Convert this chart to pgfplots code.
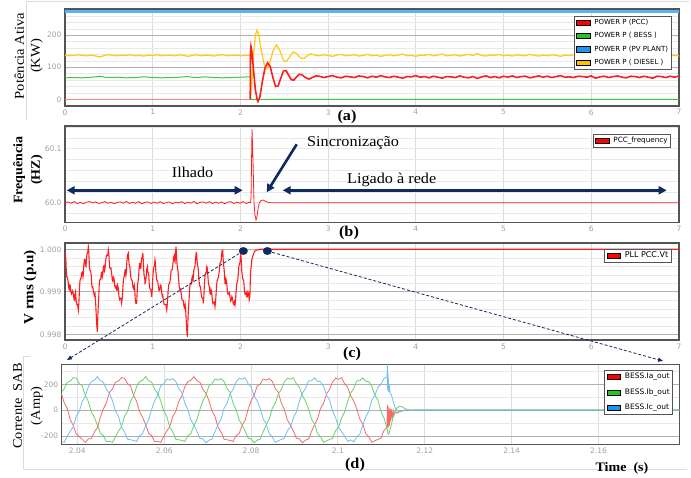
\documentclass[border=0pt]{standalone}
\usepackage{pgfplots}
\pgfplotsset{compat=1.18}
\usepackage{pgfplotstable}
\usepackage{fontspec}
\setmainfont{Liberation Serif}
\setsansfont{DejaVu Sans}
\newfontfamily\cam{Liberation Serif}[FakeStretch=1.08]
\usetikzlibrary{arrows.meta}

\definecolor{navy}{HTML}{0F2A5F}
\definecolor{axcol}{HTML}{555555}
\definecolor{tickcol}{HTML}{A0A0A0}
\definecolor{gridv}{HTML}{DDDDDD}
\definecolor{gridmaj}{HTML}{B0B0B0}
\definecolor{gridmin}{HTML}{E8E8E8}
\definecolor{pccred}{HTML}{FF1E1E}
\definecolor{bessgreen}{HTML}{3CC83C}
\definecolor{pvblue}{HTML}{5AB4F0}
\definecolor{dieselyel}{HTML}{FFCC1A}
\definecolor{legred}{HTML}{FF0000}
\definecolor{leggreen}{HTML}{1EC81E}
\definecolor{legblue}{HTML}{1E96F0}
\definecolor{legyel}{HTML}{FFC000}
\definecolor{ia}{HTML}{F46A6A}
\definecolor{ib}{HTML}{66D366}
\definecolor{ic}{HTML}{70BEF2}

\pgfplotsset{
  panel/.style={
    scale only axis, anchor=south west,
    axis line style={draw=axcol, line width=1.1pt},
    major tick length=0pt, minor tick length=0pt,
    grid=both,
    major x grid style={draw=gridv, line width=1pt},
    major y grid style={draw=gridmaj, line width=0.6pt},
    minor y grid style={draw=gridmin, line width=0.5pt},
    ticklabel style={font=\sffamily\fontsize{7.5}{8}\selectfont, text=tickcol},
    /pgf/number format/assume math mode=true,
    scaled ticks=false,
    legend cell align=left,
    legend style={draw=axcol, line width=0.9pt, fill=white, anchor=north east,
      font=\sffamily\fontsize{7}{8}\selectfont,
      nodes={inner sep=1pt, text height=5.5pt, text depth=1.5pt},
      row sep=4.3pt, inner xsep=2pt, inner ysep=2pt,
      /tikz/every odd column/.append style={column sep=3pt}},
    legend image code/.code={\draw[#1, draw=black, line width=0.5pt] (0pt,-2.6pt) rectangle (13.5pt,2.6pt);},
  }
}

% three-phase BESS currents (t, Ia, Ib, Ic)
\pgfplotstableread{
t a b c
2.03628 133 137 -241
2.03697 57 164 -250
2.03767 14 216 -205
2.03836 -72 224 -163
2.03906 -119 252 -129
2.03975 -186 247 -49
2.04045 -205 206 -9
2.04114 -227 187 67
2.04184 -251 114 110
2.04253 -223 67 180
2.04322 -221 -13 222
2.04392 -169 -56 231
2.04461 -136 -113 259
2.04531 -56 -179 228
2.04600 10 -198 216
2.04670 57 -246 160
2.04739 137 -241 130
2.04809 164 -250 73
2.04878 216 -205 -6
2.04947 224 -163 -49
2.05017 252 -129 -132
2.05086 247 -49 -169
2.05156 206 -9 -225
2.05225 187 67 -230
2.05295 114 110 -235
2.05364 67 180 -243
2.05434 -13 222 -198
2.05503 -56 231 -182
2.05573 -113 259 -119
2.05642 -179 228 -76
2.05712 -198 216 7
2.05781 -246 160 73
2.05851 -241 130 117
2.05920 -250 73 187
2.05989 -205 -6 203
2.06059 -163 -49 241
2.06128 -129 -132 232
2.06198 -49 -169 244
2.06267 -9 -225 222
2.06337 67 -230 167
2.06406 110 -235 137
2.06476 180 -243 54
2.06545 222 -198 4
2.06614 231 -182 -76
2.06684 259 -119 -116
2.06753 228 -76 -163
2.06823 216 7 -218
2.06892 160 73 -223
2.06961 130 117 -254
2.07030 73 187 -233
2.07100 -6 203 -225
2.07169 -49 241 -166
2.07239 -132 232 -113
2.07308 -169 244 -69
2.07378 -225 222 14
2.07447 -230 167 54
2.07517 -235 137 127
2.07586 -243 54 160
2.07655 -198 4 219
2.07725 -182 -76 247
2.07794 -119 -116 239
2.07864 -76 -163 251
2.07933 7 -218 203
2.08003 73 -223 177
2.08072 117 -254 110
2.08142 187 -233 70
2.08211 203 -225 10
2.08280 241 -166 -69
2.08350 232 -113 -109
2.08419 244 -69 -182
2.08489 222 14 -208
2.08558 167 54 -250
2.08628 137 127 -238
2.08697 54 160 -227
2.08767 4 219 -218
2.08836 -76 247 -159
2.08906 -116 239 -132
2.08975 -163 251 -59
2.09045 -218 203 -13
2.09114 -223 177 70
2.09184 -254 110 133
2.09253 -233 70 167
2.09322 -225 10 226
2.09392 -166 -69 228
2.09461 -113 -109 249
2.09531 -69 -182 224
2.09600 14 -208 219
2.09670 54 -250 183
2.09739 127 -238 117
2.09809 160 -227 77
2.09878 219 -218 -9
2.09947 247 -159 -59
2.10017 239 -132 -136
2.10086 251 -59 -166
2.10156 203 -13 -202
2.10225 177 70 -243
2.10295 110 133 -231
2.10364 70 167 -246
2.10434 10 226 -208
2.10503 -69 228 -186
2.10573 -109 249 -116
2.10642 -182 224 -53
2.10712 -208 219 -6
2.10781 -250 183 77
2.10851 -238 117 114
2.10920 -227 77 177
2.10989 -218 -9 199
2.11059 -159 -59 244
2.11128 -132 -136 255
}\currents

\pgfplotstableread{
t v
0.000 0.99991
0.005 0.99989
0.010 0.99975
0.015 0.99949
0.020 0.99935
0.029 0.99934
0.038 0.99920
0.044 0.99907
0.050 0.99905
0.055 0.99916
0.060 0.99915
0.0675 0.99899
0.075 0.99895
0.085 0.99902
0.095 0.99896
0.1025 0.99882
0.110 0.99880
0.115 0.99896
0.120 0.99900
0.1275 0.99879
0.135 0.99870
0.1435 0.99870
0.152 0.99857
0.1585 0.99875
0.165 0.99905
0.170 0.99924
0.175 0.99930
0.1825 0.99931
0.190 0.99944
0.1975 0.99946
0.205 0.99935
0.210 0.99944
0.215 0.99965
0.2215 0.99976
0.228 0.99975
0.234 0.99962
0.240 0.99960
0.246 0.99981
0.252 0.99990
0.259 0.99992
0.266 1.00006
0.2705 0.99997
0.275 0.99975
0.280 0.99957
0.285 0.99950
0.2925 0.99949
0.300 0.99936
0.305 0.99917
0.310 0.99910
0.3175 0.99911
0.325 0.99900
0.3335 0.99892
0.342 0.99896
0.3485 0.99879
0.355 0.99850
0.362 0.99822
0.369 0.99806
0.3745 0.99844
0.380 0.99870
0.385 0.99887
0.390 0.99915
0.395 0.99928
0.400 0.99928
0.4075 0.99931
0.415 0.99945
0.420 0.99946
0.425 0.99935
0.431 0.99941
0.437 0.99959
0.4435 0.99961
0.450 0.99950
0.4575 0.99957
0.465 0.99975
0.4725 0.99986
0.480 0.99985
0.487 0.99986
0.494 0.99998
0.4995 0.99990
0.505 0.99970
0.510 0.99957
0.515 0.99955
0.5235 0.99956
0.532 0.99944
0.5385 0.99929
0.545 0.99925
0.5525 0.99934
0.560 0.99930
0.5675 0.99914
0.575 0.99910
0.582 0.99913
0.589 0.99904
0.5945 0.99904
0.600 0.99915
0.6075 0.99909
0.615 0.99890
0.6225 0.99882
0.630 0.99885
0.638 0.99885
0.646 0.99873
0.653 0.99886
0.660 0.99910
0.666 0.99929
0.672 0.99935
0.678 0.99937
0.684 0.99951
0.6895 0.99952
0.695 0.99940
0.700 0.99949
0.705 0.99970
0.7135 0.99987
0.722 0.99991
0.7285 0.99970
0.735 0.99960
0.740 0.99959
0.745 0.99945
0.7525 0.99931
0.760 0.99928
0.7675 0.99925
0.775 0.99910
0.7825 0.99907
0.790 0.99915
0.795 0.99906
0.800 0.99885
0.8085 0.99873
0.817 0.99873
0.8235 0.99903
0.830 0.99920
0.8375 0.99932
0.845 0.99955
0.850 0.99967
0.855 0.99967
0.860 0.99955
0.865 0.99955
0.8705 0.99974
0.876 0.99980
0.881 0.99980
0.886 0.99991
0.8905 0.99982
0.895 0.99960
0.900 0.99942
0.905 0.99935
0.9085 0.99934
0.912 0.99920
0.9185 0.99922
0.925 0.99935
0.9325 0.99953
0.940 0.99959
0.945 0.99946
0.950 0.99945
0.955 0.99939
0.960 0.99920
0.9675 0.99907
0.975 0.99905
0.9815 0.99903
0.988 0.99888
0.994 0.99903
1.000 0.99930
1.0075 0.99951
1.015 0.99960
1.0205 0.99962
1.026 0.99975
1.0305 0.99969
1.035 0.99950
1.0425 0.99932
1.050 0.99925
1.057 0.99925
1.064 0.99912
1.072 0.99903
1.080 0.99905
1.0875 0.99916
1.095 0.99915
1.1025 0.99897
1.110 0.99890
1.1155 0.99892
1.121 0.99881
1.1305 0.99870
1.140 0.99870
1.150 0.99870
1.160 0.99857
1.1675 0.99873
1.175 0.99900
1.1825 0.99916
1.190 0.99920
1.1975 0.99924
1.205 0.99940
1.2105 0.99951
1.216 0.99951
1.223 0.99952
1.230 0.99965
1.2375 0.99981
1.245 0.99985
1.250 0.99972
1.255 0.99970
1.2605 0.99994
1.266 1.00006
1.273 0.99977
1.280 0.99960
1.2875 0.99951
1.295 0.99930
1.303 0.99911
1.311 0.99904
1.318 0.99906
1.325 0.99895
1.3325 0.99882
1.340 0.99880
1.3485 0.99879
1.357 0.99865
1.3635 0.99862
1.370 0.99870
1.375 0.99861
1.380 0.99840
1.3875 0.99811
1.395 0.99794
1.4025 0.99838
1.410 0.99870
1.415 0.99882
1.420 0.99905
1.4265 0.99919
1.433 0.99920
1.439 0.99919
1.445 0.99930
1.450 0.99934
1.455 0.99925
1.459 0.99925
1.463 0.99936
1.469 0.99952
1.475 0.99955
1.4825 0.99962
1.490 0.99980
1.4955 0.99992
1.501 0.99991
1.5055 0.99972
1.510 0.99965
1.5175 0.99956
1.525 0.99935
1.532 0.99918
1.539 0.99912
1.5445 0.99912
1.550 0.99900
1.5575 0.99887
1.565 0.99885
1.571 0.99885
1.577 0.99873
1.5835 0.99891
1.590 0.99920
1.5975 0.99939
1.605 0.99945
1.6105 0.99946
1.616 0.99959
1.622 0.99956
1.628 0.99940
1.634 0.99922
1.640 0.99915
1.6465 0.99912
1.653 0.99896
1.659 0.99895
1.665 0.99905
1.6725 0.99899
1.680 0.99880
1.6875 0.99872
1.695 0.99875
1.7025 0.99876
1.710 0.99865
1.7175 0.99879
1.725 0.99905
1.7325 0.99924
1.740 0.99930
1.750 0.99935
1.760 0.99951
1.7675 0.99967
1.775 0.99970
1.780 0.99972
1.785 0.99985
1.7915 0.99998
1.798 0.99998
1.804 0.99973
1.810 0.99960
1.817 0.99946
1.824 0.99920
1.8295 0.99919
1.835 0.99930
1.8425 0.99924
1.850 0.99905
1.8575 0.99894
1.865 0.99895
1.873 0.99898
1.881 0.99888
1.888 0.99878
1.895 0.99880
1.9025 0.99889
1.910 0.99885
1.9175 0.99872
1.925 0.99870
1.9315 0.99876
1.938 0.99869
1.944 0.99879
1.950 0.99900
1.9575 0.99919
1.965 0.99925
1.9705 0.99929
1.976 0.99944
1.983 0.99961
1.990 0.99965
1.9965 0.99972
2.003 0.99991
2.009 0.99977
2.015 0.99950
2.024 0.99933
2.033 0.99928
2.039 0.99923
2.045 0.99905
2.0525 0.99894
2.060 0.99895
2.066 0.99898
2.072 0.99888
2.0785 0.99888
2.085 0.99900
2.0925 0.99897
2.100 0.99881
2.108 0.99890
2.115 0.99944
2.130 0.99975
2.140 0.99983
2.160 0.99995
2.180 0.99998
2.220 1.00000
7.000 1.00000
}\vrms

\begin{document}
\begin{tikzpicture}
\path[use as bounding box] (0pt,0pt) rectangle (691pt,477pt);

% faint panel frames
\draw[black!14, line width=0.6pt] (26pt,476pt) -- (689pt,476pt);
\draw[black!14, line width=0.6pt] (26pt,476pt) -- (26pt,357pt);
\draw[black!14, line width=0.6pt] (30pt,121pt) -- (23pt,121pt) -- (23pt,8pt) -- (687pt,8pt);

% ---------------- (a) ----------------
\begin{axis}[panel, at={(65pt,371pt)}, width=614pt, height=97pt,
  xmin=0, xmax=7, ymin=-21, ymax=282,
  xtick={0,1,2,3,4,5,6,7}, ytick={0,100,200},
  minor ytick={20,40,60,80,120,140,160,180,220,240,260,280},
  legend style={at={(0.988,0.931)}}]
\addplot[pvblue, line width=2.2pt, forget plot] coordinates {(0,274) (7,274)};
\addplot[bessgreen, line width=1pt, forget plot] coordinates {
(0,67)(0.1,68)(0.2,67)(0.3,69)(0.35,70)(0.4,72)(0.45,69)(0.5,68)(0.6,69)(0.7,67)(0.8,68)(0.9,70)(1.0,68)(1.1,67)(1.2,68)(1.3,69)(1.4,71)(1.45,69)(1.5,68)(1.6,70)(1.7,68)(1.8,67)(1.9,68)(2.0,69)(2.1,70)(2.114,70)(2.116,0)(7,0)};
\addplot[dieselyel, line width=1.3pt, forget plot] coordinates {
(0,138)(0.05,136)(0.1,137)(0.15,139)(0.2,137)(0.25,136)(0.3,138)(0.35,135)(0.4,132)(0.45,137)(0.5,139)(0.55,137)(0.6,136)(0.65,138)(0.7,137)(0.75,139)(0.8,136)(0.85,137)(0.9,135)(0.95,138)(1.0,137)(1.05,139)(1.1,136)(1.15,137)(1.2,138)(1.25,136)(1.3,139)(1.35,137)(1.4,134)(1.45,137)(1.5,139)(1.55,136)(1.6,138)(1.65,137)(1.7,135)(1.75,138)(1.8,139)(1.85,136)(1.9,137)(1.95,138)(2.0,136)(2.05,137)(2.1,138)(2.112,137)
(2.116,15)(2.13,50)(2.15,140)(2.17,200)(2.19,216)(2.21,200)(2.24,150)(2.27,110)(2.30,95)(2.33,110)(2.37,150)(2.41,170)(2.45,152)(2.49,122)(2.52,117)(2.56,132)(2.60,148)(2.64,143)(2.68,130)(2.72,127)(2.76,135)(2.80,142)(2.85,138)
(2.90,136)(2.95,139)(3.00,137)(3.05,134)(3.10,138)(3.15,140)(3.20,136)(3.25,137)(3.30,139)(3.35,135)(3.40,137)(3.45,140)(3.50,136)(3.55,138)(3.60,134)(3.65,137)(3.70,139)(3.75,136)(3.80,138)(3.85,141)(3.90,136)(3.95,137)(4.00,134)(4.05,138)(4.10,137)(4.15,140)(4.20,136)(4.25,138)(4.30,141)(4.35,136)(4.40,137)(4.45,139)(4.50,135)(4.55,138)(4.60,140)(4.65,137)(4.70,142)(4.75,137)(4.80,135)(4.85,139)(4.90,137)(4.95,140)(5.00,136)(5.05,138)(5.10,135)(5.15,139)(5.20,137)(5.25,136)(5.30,140)(5.35,137)(5.40,135)(5.45,138)(5.50,136)(5.55,139)(5.60,137)(5.65,134)(5.70,138)(5.75,137)(5.80,139)(5.85,136)(5.90,137)(5.95,138)(6.00,135)(6.05,142)(6.10,138)(6.15,136)(6.20,139)(6.25,137)(6.30,135)(6.35,138)(6.40,140)(6.45,136)(6.50,137)(6.55,139)(6.60,136)(6.65,138)(6.70,141)(6.75,136)(6.80,137)(6.85,139)(6.90,136)(6.95,138)(7.00,135)};
\addplot[pccred!55, line width=0.8pt, forget plot] coordinates {(0,0) (2.112,0)};
\addplot[pccred, line width=1.6pt, forget plot] coordinates {
(2.112,0)(2.115,150)(2.12,165)(2.13,150)(2.15,90)(2.17,30)(2.19,0)(2.20,-7)(2.22,5)(2.25,55)(2.28,98)(2.31,114)(2.34,102)(2.37,68)(2.40,40)(2.43,42)(2.46,66)(2.49,88)(2.52,90)(2.55,75)(2.58,61)(2.61,60)(2.64,70)(2.67,78)(2.70,77)(2.74,68)(2.78,63)(2.82,68)(2.86,73)
(2.90,72)(2.95,68)(3.00,71)(3.05,74)(3.10,69)(3.15,67)(3.20,72)(3.25,70)(3.30,68)(3.35,73)(3.40,71)(3.45,67)(3.50,72)(3.55,69)(3.60,74)(3.65,70)(3.70,68)(3.75,72)(3.80,69)(3.85,66)(3.90,71)(3.95,70)(4.00,74)(4.05,69)(4.10,71)(4.15,67)(4.20,72)(4.25,69)(4.30,66)(4.35,71)(4.40,70)(4.45,68)(4.50,73)(4.55,69)(4.60,67)(4.65,71)(4.70,65)(4.75,70)(4.80,73)(4.85,68)(4.90,71)(4.95,67)(5.00,72)(5.05,69)(5.10,73)(5.15,68)(5.20,71)(5.25,72)(5.30,67)(5.35,70)(5.40,73)(5.45,69)(5.50,72)(5.55,68)(5.60,71)(5.65,74)(5.70,69)(5.75,70)(5.80,68)(5.85,72)(5.90,71)(5.95,69)(6.00,73)(6.05,66)(6.10,70)(6.15,72)(6.20,68)(6.25,71)(6.30,73)(6.35,69)(6.40,67)(6.45,72)(6.50,71)(6.55,68)(6.60,72)(6.65,69)(6.70,66)(6.75,72)(6.80,71)(6.85,68)(6.90,72)(6.95,69)(7.00,73)};
\addlegendimage{fill=legred}\addlegendentry{POWER P (PCC)}
\addlegendimage{fill=leggreen}\addlegendentry{POWER P ( BESS )}
\addlegendimage{fill=legblue}\addlegendentry{POWER P (PV PLANT)}
\addlegendimage{fill=legyel}\addlegendentry{POWER P ( DIESEL )}
\end{axis}

% ---------------- (b) ----------------
\begin{axis}[panel, at={(65pt,254.3pt)}, width=614pt, height=96.7pt,
  xmin=0, xmax=7, ymin=59.963, ymax=60.142,
  xtick={0,1,2,3,4,5,6,7}, ytick={60.0,60.1},
  minor ytick={59.98,60.02,60.04,60.06,60.08,60.12,60.14},
  major y grid style={draw=gridmin, line width=0.5pt},
  yticklabel style={/pgf/number format/.cd, fixed, fixed zerofill, precision=1},
  legend style={at={(0.987,0.917)}, font=\sffamily\fontsize{7.2}{8}\selectfont}]
\addplot[pccred, line width=0.8pt, forget plot] coordinates {
(0.000,60.000)(0.035,60.0015)(0.07,59.999)(0.105,60.002)(0.14,59.9985)(0.175,60.0005)(0.21,59.998)(0.245,60.001)(0.28,60.002)(0.315,59.9995)(0.35,60.0015)(0.385,59.9985)(0.42,60.000)(0.455,60.002)(0.49,59.999)(0.525,60.001)(0.56,59.998)(0.595,60.0005)(0.63,60.0015)(0.665,59.999)(0.70,60.0025)(0.735,59.9985)(0.77,60.001)(0.805,59.999)(0.84,60.002)(0.875,59.998)(0.91,60.0005)(0.945,60.0015)(0.98,59.9985)(1.015,60.001)(1.05,59.999)(1.085,60.002)(1.12,59.9985)(1.155,60.000)(1.19,60.0015)(1.225,59.998)(1.26,60.001)(1.295,59.9995)(1.33,60.002)(1.365,59.9985)(1.40,60.001)(1.435,59.999)(1.47,60.0025)(1.505,59.998)(1.54,60.0005)(1.575,60.0015)(1.61,59.999)(1.645,60.002)(1.68,59.9985)(1.715,60.001)(1.75,59.999)(1.785,60.0015)(1.82,59.998)(1.855,60.001)(1.89,60.002)(1.925,59.9985)(1.96,60.001)(1.995,59.999)(2.03,60.002)(2.065,59.9985)(2.10,60.001)(2.115,60.000)
(2.121,60.01)(2.132,60.136)(2.143,60.08)(2.155,60.0)(2.165,59.978)(2.178,59.968)(2.19,59.975)(2.20,59.988)(2.216,60.0)(2.235,60.004)(2.261,60.005)(2.29,60.002)(2.338,60.0)(7,60.0)};
\addlegendimage{fill=legred}\addlegendentry{PCC\_frequency}
\end{axis}

% ---------------- (c) ----------------
\begin{axis}[panel, at={(65pt,137pt)}, width=614pt, height=97pt,
  xmin=0, xmax=7, ymin=0.997866, ymax=1.000148,
  xtick={0,1,2,3,4,5,6,7}, ytick={0.998,0.999,1.000},
  minor ytick={0.9982,0.9984,0.9986,0.9988,0.9992,0.9994,0.9996,0.9998},
  yticklabel style={/pgf/number format/.cd, fixed, fixed zerofill, precision=3},
  legend style={at={(0.988,0.938)}, font=\sffamily\fontsize{8}{9}\selectfont}]
\addplot[pccred, line width=1.1pt, forget plot] table[x=t, y=v] {\vrms};
\addplot[only marks, mark=*, mark size=3.7pt, navy, mark options={xscale=1.15}, forget plot]
  coordinates {(2.033,0.99996) (2.307,0.99996)};
\coordinate (dotA) at (axis cs:2.033,0.99996);
\coordinate (dotB) at (axis cs:2.307,0.99996);
\addlegendimage{fill=legred}\addlegendentry{PLL PCC.Vt}
\end{axis}

% ---------------- (d) ----------------
\begin{axis}[panel, at={(61.7pt,32.7pt)}, width=617.6pt, height=80pt,
  xmin=2.0364, xmax=2.1786, ymin=-265, ymax=355,
  xtick={2.04,2.06,2.08,2.1,2.12,2.14,2.16}, ytick={-200,0,200},
  minor ytick={-100,100,300},
  legend style={at={(0.990,0.929)}, font=\sffamily\fontsize{7.5}{8}\selectfont, row sep=6.5pt}]
\addplot[ia, line width=0.8pt, forget plot] table[x=t, y=a] {\currents};
\addplot[ia, line width=0.8pt, forget plot] coordinates {
(2.11128,-132)(2.1114,40)(2.11155,-140)(2.1117,25)(2.11185,-120)(2.1120,15)(2.11215,-90)(2.1123,5)(2.1125,-60)(2.1127,-5)(2.1129,-40)(2.1132,-10)(2.1136,-25)(2.1142,-12)(2.1150,-5)(2.1160,-2)(2.118,0)(2.1786,0)};
\addplot[ib, line width=0.8pt, forget plot] table[x=t, y=b] {\currents};
\addplot[ib, line width=0.8pt, forget plot] coordinates {
(2.11128,-136)(2.1115,-180)(2.1117,-187)(2.1121,-140)(2.1126,-70)(2.1131,-15)(2.1136,15)(2.1142,30)(2.1148,25)(2.1155,10)(2.1163,2)(2.117,0)(2.1786,0)};
\addplot[ic, line width=0.8pt, forget plot] table[x=t, y=c] {\currents};
\addplot[ic, line width=0.8pt, forget plot] coordinates {
(2.11128,255)(2.11135,300)(2.1114,400)(2.11145,160)(2.1115,290)(2.11155,150)(2.1116,250)(2.1117,140)(2.1118,200)(2.1120,130)(2.1123,120)(2.1127,70)(2.1131,25)(2.1135,0)(2.1139,-12)(2.1145,-5)(2.1152,0)(2.1786,0)};
\addlegendimage{fill=legred}\addlegendentry{BESS.Ia\_out}
\addlegendimage{fill=leggreen}\addlegendentry{BESS.Ib\_out}
\addlegendimage{fill=legblue}\addlegendentry{BESS.Ic\_out}
\end{axis}

% ---------------- y labels ----------------
\node[rotate=90, align=center, font=\cam\fontsize{13.5}{16}\selectfont] at (28.7pt,421pt) {Potência Ativa\\(KW)};
\node[rotate=90, align=center, font=\cam\bfseries\fontsize{13}{17.5}\selectfont] at (28pt,307pt) {Frequência\\(HZ)};
\node[rotate=90, font=\cam\bfseries\fontsize{14}{16}\selectfont] at (30pt,189.5pt) {V rms (p.u)};
\node[rotate=90, align=center, font=\cam\fontsize{13.3}{18}\selectfont] at (28pt,71pt) {Corrente\ \ SAB\\(Amp)};

% ---------------- panel letters ----------------
\node[font=\cam\bfseries\fontsize{15}{17}\selectfont] at (347pt,360pt) {(a)};
\node[font=\cam\bfseries\fontsize{15}{17}\selectfont] at (349pt,244pt) {(b)};
\node[font=\cam\bfseries\fontsize{15}{17}\selectfont] at (352pt,123pt) {(c)};
\node[font=\cam\bfseries\fontsize{15}{17}\selectfont] at (355pt,12pt) {(d)};
\node[font=\cam\bfseries\fontsize{13}{15}\selectfont] at (622pt,9pt) {Time\ \ (s)};

% ---------------- annotations in (b) ----------------
\draw[navy, line width=2.6pt, {Triangle[length=8pt,width=8pt]}-{Triangle[length=8pt,width=8pt]}] (66.7pt,286.7pt) -- (242.7pt,286.7pt);
\draw[navy, line width=2.6pt, {Triangle[length=8pt,width=8pt]}-{Triangle[length=8pt,width=8pt]}] (282.7pt,286.7pt) -- (666.7pt,286.7pt);
\draw[navy, line width=2.6pt, -{Triangle[length=8pt,width=8pt]}] (296.7pt,332.7pt) -- (266.7pt,284.7pt);
\node[anchor=base west, inner sep=0pt, font=\cam\fontsize{15}{17}\selectfont] at (171.7pt,299pt) {Ilhado};
\node[anchor=base west, inner sep=0pt, font=\cam\fontsize{15}{17}\selectfont] at (347pt,293pt) {Ligado à rede};
\node[anchor=base west, inner sep=0pt, font=\cam\fontsize{15}{17}\selectfont] at (307pt,330pt) {Sincronização};

% ---------------- dashed zoom lines ----------------
\draw[navy, line width=0.8pt, dash pattern=on 3pt off 2pt, -{Triangle[length=5pt,width=4pt]}] (dotA) -- (67pt,117pt);
\draw[navy, line width=0.8pt, dash pattern=on 3pt off 2pt, -{Triangle[length=5pt,width=4pt]}] (dotB) -- (663pt,116pt);
\end{tikzpicture}
\end{document}
